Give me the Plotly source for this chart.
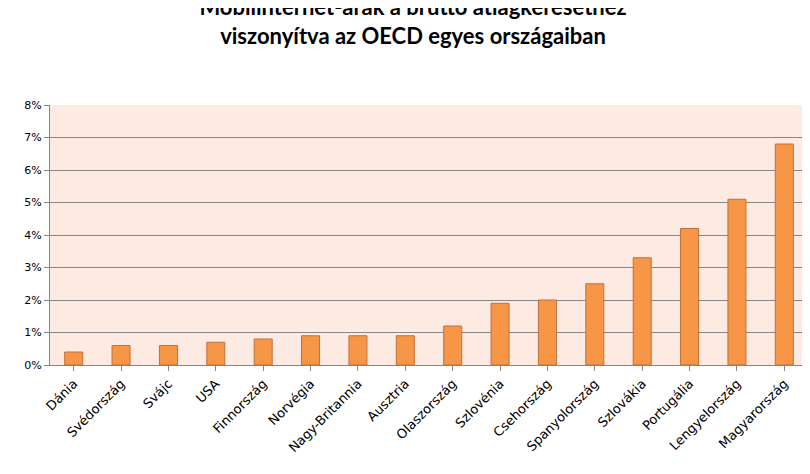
import plotly.graph_objects as go

countries = ["Dánia", "Svédország", "Svájc", "USA", "Finnország", "Norvégia",
             "Nagy-Britannia", "Ausztria", "Olaszország", "Szlovénia", "Csehország",
             "Spanyolország", "Szlovákia", "Portugália", "Lengyelország", "Magyarország"]
values = [0.004, 0.006, 0.006, 0.007, 0.008, 0.009, 0.009, 0.009, 0.012, 0.019,
          0.020, 0.025, 0.033, 0.042, 0.051, 0.068]

fig = go.Figure(go.Bar(
    x=countries, y=values, width=0.38,
    marker=dict(color="#F79646", line=dict(color="#C0703A", width=1)),
))
fig.update_layout(
    width=810, height=474,
    margin=dict(l=42, r=10, t=97, b=117, autoexpand=False),
    paper_bgcolor="white", plot_bgcolor="#FDEAE3",
    font=dict(family="DejaVu Sans", size=11, color="black"),
    title=dict(text="<b>Mobilinternet-árak a bruttó átlagkeresethez<br>viszonyítva az OECD egyes országaiban</b>",
               x=0.5, xanchor="center", y=0.985, yanchor="top",
               font=dict(family="Lato", size=22, color="black")),
    showlegend=False,
    xaxis=dict(tickangle=-45, showline=True, linecolor="#868686", ticks="outside",
               tickcolor="#868686", tickfont=dict(size=13), automargin=False),
    yaxis=dict(range=[0, 0.08], dtick=0.01, tickformat=".0%", gridcolor="#868686",
               showline=True, linecolor="#868686", ticks="outside", tickcolor="#868686",
               zeroline=False, automargin=False),
)
fig.write_html("out.html")
